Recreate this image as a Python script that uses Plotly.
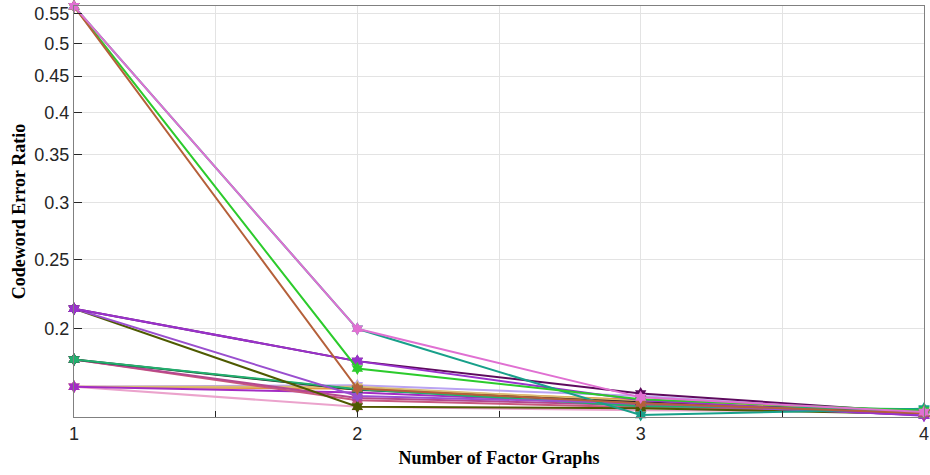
import math
import plotly.graph_objects as go

# Number of factor graphs on the x axis
n_factor_graphs = [1, 2, 3, 4]

# Codeword error ratio per configuration (one list per curve)
ser_violet_lo = [0.1661, 0.1630, 0.1570, 0.1517]
ser_lavender = [0.1661, 0.1668, 0.1612, 0.1523]
ser_orange = [0.1661, 0.1650, 0.1592, 0.1525]
ser_tan = [0.1661, 0.1660, 0.1585, 0.1527]
ser_light_pink = [0.1661, 0.1557, 0.1540, 0.1533]

ser_rose = [0.1812, 0.1590, 0.1555, 0.1525]
ser_raspberry = [0.1812, 0.1602, 0.1565, 0.1530]
ser_black = [0.1812, 0.1645, 0.1580, 0.1527]
ser_sea_green = [0.1812, 0.1648, 0.1560, 0.1545]

ser_mid_purple = [0.2133, 0.1612, 0.1575, 0.1515]
ser_dark_purple = [0.2133, 0.1803, 0.1625, 0.1528]
ser_olive = [0.2133, 0.1558, 0.1550, 0.1522]
ser_orchid = [0.2133, 0.1803, 0.1590, 0.1513]

ser_teal = [0.563, 0.200, 0.1517, 0.1548]
ser_sienna = [0.563, 0.1651, 0.1575, 0.1525]
ser_lime = [0.563, 0.1761, 0.1595, 0.1538]
ser_pink = [0.563, 0.200, 0.1605, 0.1531]

curves = [
    (ser_lavender, "#B9A3F2"),
    (ser_orange, "#E3963E"),
    (ser_tan, "#D9BC72"),
    (ser_light_pink, "#EBA3CC"),
    (ser_violet_lo, "#A32CC4"),
    (ser_rose, "#C8587E"),
    (ser_raspberry, "#B5478F"),
    (ser_black, "#1E1E1E"),
    (ser_sea_green, "#21B06E"),
    (ser_olive, "#4E5A00"),
    (ser_mid_purple, "#9A4FCF"),
    (ser_dark_purple, "#5E0A5E"),
    (ser_orchid, "#9932CC"),
    (ser_teal, "#18A08A"),
    (ser_lime, "#2CCB2C"),
    (ser_sienna, "#B5603A"),
    (ser_pink, "#E070D2"),
]

# Y ticks (log axis) and x ticks every half step, labelled at integers
y_ticks = [0.2, 0.25, 0.3, 0.35, 0.4, 0.45, 0.5, 0.55]
y_tick_text = ["0.2", "0.25", "0.3", "0.35", "0.4", "0.45", "0.5", "0.55"]
x_ticks = [1, 1.5, 2, 2.5, 3, 3.5, 4]
x_tick_text = ["1", "", "2", "", "3", "", "4"]

fig = go.Figure()
for vals, col in curves:
    fig.add_trace(go.Scatter(
        x=n_factor_graphs, y=vals, mode="lines+markers",
        line=dict(color=col, width=2),
        marker=dict(symbol="hexagram", size=10, color=col, line=dict(width=0)),
        showlegend=False,
        cliponaxis=False,
    ))

tick_font = dict(family="Liberation Sans, Arial", size=18, color="#262626")
title_font = dict(family="Liberation Serif, Times New Roman", size=18,
                  color="#000000", weight="bold")

fig.update_layout(
    width=930, height=475,
    margin=dict(l=74, r=6, t=6, b=58),
    paper_bgcolor="white", plot_bgcolor="white",
    xaxis=dict(
        range=[1, 4], tickvals=x_ticks, ticktext=x_tick_text,
        ticks="inside", ticklen=6, tickcolor="#262626",
        showgrid=True, gridcolor="#E3E3E3", gridwidth=1,
        showline=True, linecolor="#808080", linewidth=1, mirror=True,
        zeroline=False, tickfont=tick_font, automargin=False,
        title=dict(text="Number of Factor Graphs", font=title_font, standoff=8),
    ),
    yaxis=dict(
        type="log",
        range=[math.log10(0.1507), math.log10(0.5635)],
        tickvals=y_ticks, ticktext=y_tick_text,
        ticks="inside", ticklen=8, tickcolor="#262626",
        showgrid=True, gridcolor="#E3E3E3", gridwidth=1,
        showline=True, linecolor="#808080", linewidth=1, mirror=True,
        zeroline=False, tickfont=tick_font, automargin=False,
        title=dict(text="Codeword Error Ratio", font=title_font, standoff=4),
    ),
)

fig.write_html("out.html")
